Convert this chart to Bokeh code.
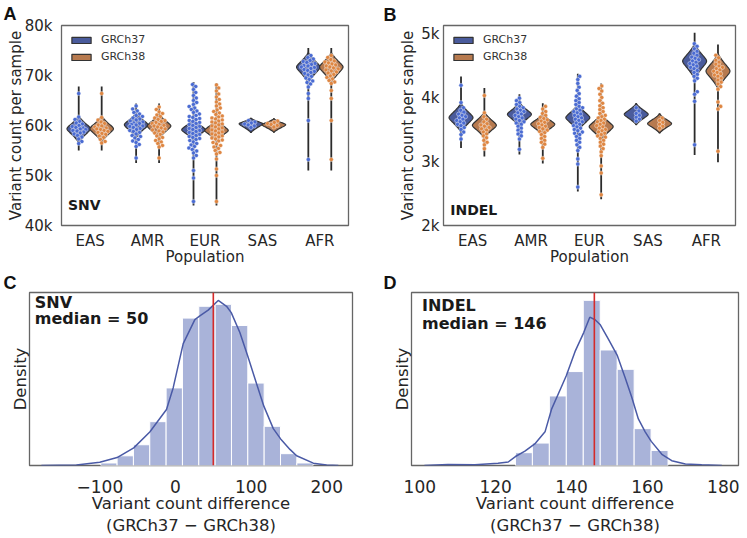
import numpy as np
from bokeh.plotting import figure
from bokeh.models import (Range1d, FixedTicker, NumeralTickFormatter, Label, Legend,
                          LegendItem, Span, CustomJSTickFormatter)
from bokeh.layouts import column, row
from bokeh.embed import file_html
from bokeh.resources import INLINE

populations = ["EAS", "AMR", "EUR", "SAS", "AFR"]
references = ["GRCh37", "GRCh38"]

# ---------------- Panel A: SNV count per sample (thousands) ----------------
snv_points = {
    "GRCh37": {
        "EAS": [66.4, 61.7, 61.2, 60.8, 60.5, 60.3, 60.0, 59.8, 59.6, 59.5, 59.3, 59.2, 59.0,
                58.9, 58.7, 58.5, 58.3, 58.0, 57.7, 57.3, 56.8, 56.4],
        "AMR": [63.9, 63.3, 62.9, 62.6, 62.3, 62.0, 61.8, 61.5, 61.3, 61.1, 60.9, 60.7, 60.5,
                60.4, 60.2, 60.1, 59.9, 59.8, 59.6, 59.4, 59.2, 59.0, 58.8, 58.6, 58.3, 58.0,
                57.8, 57.5, 57.2, 56.9, 56.6, 56.2, 55.8, 53.5],
        "EUR": [68.2, 67.8, 67.2, 66.6, 66.0, 65.5, 65.0, 64.6, 64.2, 63.8, 63.5, 63.2, 62.9,
                62.6, 62.3, 62.0, 61.8, 61.6, 61.4, 61.2, 61.0, 60.8, 60.6, 60.4, 60.2, 60.0,
                59.8, 59.6, 59.4, 59.2, 59.0, 58.8, 58.6, 58.4, 58.2, 58.0, 57.8, 57.6, 57.4,
                57.2, 57.0, 56.7, 56.4, 56.1, 55.8, 55.5, 55.2, 54.9, 54.5, 54.0, 53.5, 51.0,
                49.5, 44.8],
        "SAS": [61.0, 60.7, 60.5, 60.3, 60.1, 59.9, 59.6],
        "AFR": [74.0, 73.6, 73.3, 73.0, 72.8, 72.6, 72.4, 72.2, 72.0, 71.9, 71.7, 71.6, 71.4,
                71.2, 71.0, 70.8, 70.6, 70.4, 70.1, 69.8, 69.5, 69.2, 68.9, 68.6, 68.3, 67.7,
                66.4, 65.4, 61.0, 53.2],
    },
    "GRCh38": {
        "EAS": [66.4, 61.6, 61.1, 60.7, 60.4, 60.1, 59.9, 59.7, 59.5, 59.3, 59.2, 59.0, 58.8,
                58.6, 58.4, 58.2, 57.9, 57.6, 57.2, 56.8, 56.5],
        "AMR": [63.7, 63.2, 62.7, 62.4, 62.1, 61.8, 61.5, 61.2, 61.0, 60.8, 60.6, 60.4, 60.2,
                60.0, 59.9, 59.7, 59.5, 59.3, 59.1, 58.9, 58.7, 58.5, 58.2, 57.9, 57.6, 57.3,
                57.0, 56.7, 56.4, 56.0, 55.7, 53.5],
        "EUR": [68.1, 67.5, 66.9, 66.3, 65.7, 65.2, 64.7, 64.3, 63.9, 63.5, 63.1, 62.8, 62.5,
                62.2, 61.9, 61.7, 61.5, 61.3, 61.1, 60.9, 60.7, 60.5, 60.3, 60.1, 59.9, 59.7,
                59.5, 59.3, 59.1, 58.9, 58.7, 58.5, 58.3, 58.1, 57.9, 57.7, 57.5, 57.3, 57.1,
                56.9, 56.6, 56.3, 56.0, 55.7, 55.4, 55.0, 54.6, 54.3, 53.3, 51.3, 50.0, 44.8],
        "SAS": [60.9, 60.6, 60.4, 60.2, 60.0, 59.7],
        "AFR": [74.0, 73.6, 73.2, 72.9, 72.7, 72.5, 72.3, 72.1, 71.9, 71.7, 71.5, 71.3, 71.1,
                70.9, 70.7, 70.5, 70.2, 69.9, 69.6, 69.3, 69.0, 68.7, 68.4, 67.0, 65.4, 61.0,
                53.2],
    },
}
# violin outline summaries (thousands): widest point, body top/bottom, tail ends
snv_center = {"GRCh37": [59.35, 60.15, 59.15, 60.35, 71.7], "GRCh38": [59.35, 59.9, 59.0, 60.15, 71.7]}
snv_body_top = {"GRCh37": [62.0, 62.6, 61.4, 61.5, 74.7], "GRCh38": [62.0, 62.4, 61.3, 61.4, 74.7]}
snv_body_bottom = {"GRCh37": [56.5, 57.5, 57.0, 58.55, 68.4], "GRCh38": [56.6, 57.3, 56.9, 58.6, 68.4]}
snv_tail_low = {"GRCh37": [55.0, 52.5, 44.0, 58.55, 51.0], "GRCh38": [55.0, 52.5, 44.0, 58.6, 51.0]}
snv_tail_high = {"GRCh37": [67.8, 64.4, 68.7, 61.5, 75.5], "GRCh38": [67.8, 64.4, 68.5, 61.4, 75.5]}

# ---------------- Panel B: INDEL count per sample (thousands) ----------------
indel_points = {
    "GRCh37": {
        "EAS": [4.19, 3.92, 3.84, 3.80, 3.77, 3.74, 3.72, 3.70, 3.68, 3.66, 3.64, 3.62, 3.60,
                3.58, 3.56, 3.53, 3.50, 3.46, 3.42, 3.35],
        "AMR": [3.99, 3.95, 3.92, 3.89, 3.86, 3.84, 3.82, 3.80, 3.78, 3.76, 3.74, 3.72, 3.70,
                3.68, 3.66, 3.64, 3.62, 3.60, 3.58, 3.55, 3.52, 3.49, 3.46, 3.43, 3.40, 3.35, 3.19],
        "EUR": [4.33, 4.28, 4.22, 4.16, 4.11, 4.06, 4.02, 3.98, 3.95, 3.92, 3.89, 3.86, 3.84,
                3.82, 3.80, 3.78, 3.76, 3.74, 3.72, 3.70, 3.68, 3.66, 3.64, 3.62, 3.60, 3.58,
                3.56, 3.54, 3.52, 3.50, 3.48, 3.46, 3.44, 3.42, 3.39, 3.36, 3.33, 3.30, 3.26,
                3.22, 3.17, 3.04, 2.96, 2.60],
        "SAS": [3.84, 3.79, 3.75, 3.72, 3.69, 3.66, 3.63],
        "AFR": [4.84, 4.80, 4.76, 4.72, 4.69, 4.66, 4.63, 4.61, 4.59, 4.57, 4.55, 4.53, 4.51,
                4.49, 4.47, 4.45, 4.42, 4.39, 4.36, 4.33, 4.30, 4.26, 4.09, 4.05, 3.94, 3.26],
    },
    "GRCh38": {
        "EAS": [4.03, 3.76, 3.70, 3.66, 3.62, 3.59, 3.57, 3.55, 3.53, 3.51, 3.49, 3.46, 3.43,
                3.40, 3.37, 3.33, 3.30, 3.26, 3.20],
        "AMR": [3.86, 3.82, 3.78, 3.75, 3.72, 3.69, 3.67, 3.65, 3.63, 3.61, 3.59, 3.57, 3.55,
                3.53, 3.51, 3.49, 3.47, 3.45, 3.42, 3.39, 3.36, 3.33, 3.30, 3.27, 3.22, 3.05],
        "EUR": [4.18, 4.14, 4.10, 4.05, 4.00, 3.95, 3.91, 3.87, 3.84, 3.81, 3.78, 3.75, 3.72,
                3.70, 3.68, 3.66, 3.64, 3.62, 3.60, 3.58, 3.56, 3.54, 3.52, 3.50, 3.48, 3.46,
                3.44, 3.42, 3.40, 3.38, 3.36, 3.33, 3.30, 3.27, 3.24, 3.20, 3.15, 3.09, 2.93,
                2.82, 2.48],
        "SAS": [3.68, 3.64, 3.61, 3.58, 3.55, 3.52],
        "AFR": [4.66, 4.62, 4.58, 4.55, 4.52, 4.49, 4.47, 4.45, 4.43, 4.41, 4.39, 4.37, 4.35,
                4.33, 4.30, 4.27, 4.24, 4.21, 4.17, 4.13, 3.93, 3.86, 3.82, 3.16],
    },
}
indel_center = {"GRCh37": [3.686, 3.737, 3.686, 3.737, 4.568], "GRCh38": [3.566, 3.581, 3.545, 3.592, 4.412]}
indel_body_top = {"GRCh37": [3.92, 3.93, 3.90, 3.91, 4.85], "GRCh38": [3.78, 3.75, 3.75, 3.75, 4.70]}
indel_body_bottom = {"GRCh37": [3.45, 3.54, 3.47, 3.57, 4.28], "GRCh38": [3.36, 3.40, 3.33, 3.44, 4.13]}
indel_tail_low = {"GRCh37": [3.21, 3.11, 2.53, 3.57, 3.10], "GRCh38": [3.08, 2.97, 2.41, 3.44, 2.99]}
indel_tail_high = {"GRCh37": [4.33, 4.05, 4.37, 3.91, 5.01], "GRCh38": [4.15, 3.91, 4.22, 3.75, 4.83]}

# ---------------- Panel C: SNV difference histogram ----------------
snv_bin_start = -98.8
snv_bin_width = 21.6
snv_density = [0.00013, 0.0005, 0.00107, 0.00226, 0.0040, 0.0076, 0.00821, 0.00831,
               0.00722, 0.00425, 0.00202, 0.00061, 0.00013]
snv_kde_x = [-177.3, -131, -100.1, -77.2, -55.2, -34, -11.9, -3.1, 10.2, 25.6, 32.2, 43.2,
             56.5, 67.5, 73.7, 85.1, 95.7, 107.2, 116.8, 129.3, 139, 151.3, 160.1, 182.2,
             199.8, 215.3]
snv_kde_y = [0, 0.00003, 0.00017, 0.00041, 0.00091, 0.00173, 0.00289, 0.0040, 0.00628,
             0.00752, 0.00771, 0.00801, 0.00851, 0.00821, 0.00788, 0.00686, 0.00562, 0.00421,
             0.00306, 0.0019, 0.00137, 0.00083, 0.0005, 0.00012, 0.00003, 0]
snv_median = 50

# ---------------- Panel D: INDEL difference histogram ----------------
indel_bin_start = 125.2
indel_bin_width = 4.47
indel_density = [0.00457, 0.0080, 0.0248, 0.0335, 0.0589, 0.0412, 0.0343, 0.01315, 0.00537]
indel_kde_x = [101.2, 107.4, 114.5, 120.6, 123.3, 125.2, 127.7, 130.3, 133, 134.7, 137.3,
               138.6, 140.9, 143.2, 144.8, 146.2, 147.5, 149.7, 152, 154.1, 155.8, 157.6,
               159.4, 161, 163.8, 166.4, 170, 174.3, 179.6]
indel_kde_y = [0, 0.00034, 0.00023, 0.0008, 0.00125, 0.0032, 0.0051, 0.0077, 0.012, 0.02,
               0.028, 0.032, 0.0406, 0.0474, 0.0529, 0.052, 0.0503, 0.0451, 0.0394, 0.0314,
               0.0246, 0.0166, 0.012, 0.0086, 0.004, 0.0017, 0.00057, 0.00023, 0]
indel_median = 146

# ---------------- styles ----------------
FONT = "DejaVu Sans"
TXT = "#262626"
violin_fill = {"GRCh37": "#4a5b9c", "GRCh38": "#b77a4f"}
point_fill = {"GRCh37": "#4a6bd2", "GRCh38": "#de8642"}
dodge = {"GRCh37": -0.2, "GRCh38": 0.2}
half_width = 0.205
hist_fill = "#a9b3d9"
kde_color = "#4a5aa6"
median_color = "#d42a2a"


def style(p, tick_font, label_font):
    p.outline_line_color = "#666666"
    p.outline_line_width = 1.3
    p.xgrid.visible = False
    p.ygrid.visible = False
    for ax in (p.xaxis[0], p.yaxis[0]):
        ax.axis_line_color = None
        ax.major_tick_line_color = None
        ax.minor_tick_line_color = None
        ax.major_tick_out = 0
        ax.major_tick_in = 0
        ax.minor_tick_out = 0
        ax.minor_tick_in = 0
        ax.major_label_text_font = FONT
        ax.major_label_text_font_size = tick_font
        ax.major_label_text_color = TXT
        ax.axis_label_text_font = FONT
        ax.axis_label_text_font_size = label_font
        ax.axis_label_text_font_style = "normal"
        ax.axis_label_text_color = TXT


def panel_letter(p, text, offset, standoff=0):
    p.title.text = text
    p.title.text_font = "Liberation Sans"
    p.title.text_font_style = "bold"
    p.title.text_font_size = "18px"
    p.title.text_color = "#111111"
    p.title.align = "left"
    p.title.offset = offset
    p.title.standoff = standoff


def outline(xc, c, top, bottom, w, n=28):
    t = np.linspace(0.0, 1.0, n)
    e = 0.12
    tt = (np.sqrt(t * t + e * e) - e) / (np.sqrt(1 + e * e) - e)
    prof = w * (1 - tt) ** 1.3
    y_up = c + t * (top - c)
    y_dn = c - t * (c - bottom)
    ys_r = np.concatenate([y_dn[::-1], y_up[1:]])
    hw_r = np.concatenate([prof[::-1], prof[1:]])
    xs = np.concatenate([xc + hw_r, (xc - hw_r)[::-1]])
    ys = np.concatenate([ys_r, ys_r[::-1]])
    return list(xs), list(ys)


def swarm(values, xc, px_x, px_y, d=3.7, cap=0.12):
    vals = np.asarray(values, dtype=float)
    order = np.argsort(vals)
    placed = []
    out = np.zeros(len(vals))
    capx = cap * px_x
    for i in order:
        y = vals[i] * px_y
        near = [(qx, qy) for qx, qy in placed if abs(qy - y) < d]
        cands = [0.0]
        for qx, qy in near:
            dx = np.sqrt(max(d * d - (qy - y) ** 2, 0.0))
            cands += [qx + dx, qx - dx]
        cands.sort(key=abs)
        chosen = None
        for cnd in cands:
            if abs(cnd) > capx:
                continue
            if all((cnd - qx) ** 2 + (y - qy) ** 2 >= d * d - 1e-6 for qx, qy in near):
                chosen = cnd
                break
        if chosen is None:
            slots = np.linspace(-capx, capx, 7)
            score = [min([abs(s - qx) + abs(y - qy) for qx, qy in near] + [99]) for s in slots]
            chosen = float(slots[int(np.argmax(score))])
        placed.append((chosen, y))
        out[i] = xc + chosen / px_x
    return out


def violin_panel(p, points, center, btop, bbot, tlo, thi, px_x, px_y, scale=1000.0):
    rends = {}
    for ref in references:
        xs_all, ys_all, x0, y0, y1 = [], [], [], [], []
        for i, pop in enumerate(populations):
            xc = i + dodge[ref]
            x0.append(xc)
            y0.append(tlo[ref][i] * scale)
            y1.append(thi[ref][i] * scale)
            xs, ys = outline(xc, center[ref][i] * scale, btop[ref][i] * scale,
                             bbot[ref][i] * scale, half_width)
            xs_all.append(xs)
            ys_all.append(ys)
        p.segment(x0=x0, y0=y0, x1=x0, y1=y1, line_color="#2b2b2b", line_width=1.8)
        rends[ref] = p.patches(xs_all, ys_all, fill_color=violin_fill[ref],
                               line_color="#333333", line_width=1.2)
    for ref in references:
        px, py = [], []
        for i, pop in enumerate(populations):
            v = [val * scale for val in points[ref][pop]]
            px += list(swarm(v, i + dodge[ref], px_x, px_y))
            py += v
        p.scatter(px, py, size=4.2, fill_color=point_fill[ref], line_color="white",
                  line_width=0.5, line_alpha=0.8)
    legend = Legend(items=[LegendItem(label=r, renderers=[rends[r]]) for r in references],
                    location="top_left")
    legend.background_fill_alpha = 0
    legend.border_line_alpha = 0
    legend.label_text_font = FONT
    legend.label_text_font_size = "11px"
    legend.label_text_color = "#333333"
    legend.glyph_width = 24
    legend.glyph_height = 8
    legend.label_height = 13
    legend.spacing = 4
    legend.padding = 4
    legend.margin = 4
    legend.label_standoff = 8
    p.add_layout(legend)
    p.xaxis.ticker = FixedTicker(ticks=list(range(len(populations))))
    p.xaxis.major_label_overrides = {i: pop for i, pop in enumerate(populations)}
    p.xaxis.axis_label = "Population"
    p.yaxis.axis_label = "Variant count per sample"
    p.yaxis.formatter = NumeralTickFormatter(format="0a")


def tag(p, text, x, y, size):
    p.add_layout(Label(x=x, y=y, x_units="screen", y_units="screen", text=text,
                       text_font=FONT, text_font_style="bold", text_font_size=size,
                       text_color="#1a1a1a", text_baseline="middle"))


# ---------------- Panel A ----------------
pA = figure(width=383, height=270, x_range=Range1d(-0.5, 4.5), y_range=Range1d(40000, 80000),
            output_backend="svg", toolbar_location=None,
            min_border_left=61, min_border_right=35, min_border_top=25, min_border_bottom=45)
style(pA, "15px", "15px")
violin_panel(pA, snv_points, snv_center, snv_body_top, snv_body_bottom, snv_tail_low,
             snv_tail_high, 57.4, 4.9875 / 1000)
pA.yaxis.ticker = FixedTicker(ticks=[40000, 50000, 60000, 70000, 80000])
pA.yaxis.major_label_standoff = 9
pA.yaxis.axis_label_standoff = -3
pA.xaxis.major_label_standoff = 6
pA.xaxis.axis_label_standoff = -5
tag(pA, "SNV", 6.5, 21, "14px")
panel_letter(pA, "A", -58, 3)

# ---------------- Panel B ----------------
pB = figure(width=364, height=270, x_range=Range1d(-0.5, 4.5), y_range=Range1d(2000, 5125),
            output_backend="svg", toolbar_location=None,
            min_border_left=60, min_border_right=12, min_border_top=24, min_border_bottom=45)
style(pB, "15px", "15px")
violin_panel(pB, indel_points, indel_center, indel_body_top, indel_body_bottom, indel_tail_low,
             indel_tail_high, 58.3, 64.2 / 1000)
pB.yaxis.ticker = FixedTicker(ticks=[2000, 3000, 4000, 5000])
pB.yaxis.major_label_standoff = 4
pB.yaxis.axis_label_standoff = 1
pB.xaxis.major_label_standoff = 6
pB.xaxis.axis_label_standoff = -5
tag(pB, "INDEL", 6.7, 15.5, "14px")
panel_letter(pB, "B", -60, 2)


# ---------------- histogram panels ----------------
def hist_panel(p, start, width, dens, kx, ky, med, ticks):
    lefts = [start + k * width for k in range(len(dens))]
    rights = [start + (k + 1) * width for k in range(len(dens))]
    p.quad(left=lefts, right=rights, bottom=0, top=dens, fill_color=hist_fill,
           line_color="white", line_width=1)
    p.line(kx, ky, line_color=kde_color, line_width=1.5)
    p.add_layout(Span(location=med, dimension="height", line_color=median_color, line_width=1.6))
    p.xaxis.ticker = FixedTicker(ticks=ticks)
    p.xaxis.formatter = CustomJSTickFormatter(
        code="return tick < 0 ? '\u2212' + Math.abs(tick) : tick.toString();")
    p.yaxis.ticker = FixedTicker(ticks=[])
    p.yaxis.axis_label = "Density"
    p.yaxis.axis_label_standoff = 0
    p.yaxis.major_label_standoff = 0
    p.xaxis.axis_label = "Variant count difference\n(GRCh37 \u2212 GRCh38)"
    p.xaxis.major_label_standoff = 14
    p.xaxis.axis_label_standoff = -2


pC = figure(width=383, height=268, x_range=Range1d(-193, 234), y_range=Range1d(0, 0.00892),
            output_backend="svg", toolbar_location=None,
            min_border_left=29, min_border_right=31, min_border_top=19, min_border_bottom=69)
style(pC, "17px", "16.5px")
hist_panel(pC, snv_bin_start, snv_bin_width, snv_density, snv_kde_x, snv_kde_y, snv_median,
           [-100, 0, 100, 200])
tag(pC, "SNV", 5.3, 163.3, "16px")
tag(pC, "median = %d" % snv_median, 5.3, 146.7, "16px")
panel_letter(pC, "C", -26)

pD = figure(width=364, height=268, x_range=Range1d(97.8, 184), y_range=Range1d(0, 0.0617),
            output_backend="svg", toolbar_location=None,
            min_border_left=28, min_border_right=9, min_border_top=19, min_border_bottom=69)
style(pD, "17px", "16.5px")
hist_panel(pD, indel_bin_start, indel_bin_width, indel_density, indel_kde_x, indel_kde_y,
           indel_median, [100, 120, 140, 160, 180])
tag(pD, "INDEL", 10.5, 160.5, "16px")
tag(pD, "median = %d" % indel_median, 10.5, 142.5, "16px")
panel_letter(pD, "D", -28)

layout = column(row(pA, pB), row(pC, pD))
open("out.html", "w").write(file_html(layout, INLINE))
